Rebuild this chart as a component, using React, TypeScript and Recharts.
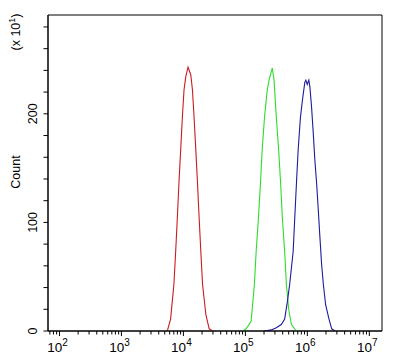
import React from "react";
import { LineChart, Line, XAxis, YAxis, ReferenceArea } from "recharts";

// ---- data ----
const redX = [5500, 6210, 7030, 7500, 7980, 8470, 9040, 9630, 10230, 10900, 11880, 13150, 14000, 14860, 15850, 16890, 17950, 19110, 20360, 23060, 26070, 29630];
const redY = [0, 11, 43, 73, 104, 136, 167, 197, 222, 234, 243, 236, 222, 197, 167, 136, 104, 73, 43, 15, 2, 0];

const greenX = [90700, 102600, 123800, 140000, 149200, 162600, 175300, 186900, 203800, 225400, 245700, 271700, 289600, 315600, 344200, 370800, 395300, 430700, 459000, 500300, 553600, 667000];
const greenY = [0, 2, 9, 43, 73, 104, 136, 167, 197, 222, 233, 242, 232, 197, 167, 136, 104, 73, 43, 20, 6, 0];

const blueX = [203800, 261800, 315600, 380200, 430700, 476400, 518800, 553300, 590200, 626500, 667400, 711200, 774600, 835100, 910600, 946500, 996300, 1057000, 1098000, 1171000, 1247000, 1324000, 1412000, 1504000, 1597000, 1702000, 1813000, 1976000, 2237000, 2474000, 2801000];
const blueY = [0, 1, 3, 6, 11, 27, 43, 58, 73, 104, 136, 167, 197, 213, 229, 231, 227, 231, 225, 206, 182, 157, 136, 111, 86, 61, 43, 24, 11, 2, 0];

const xDomain = [65.3, 16030000];
const yDomain = [0, 291];
const decades = [1, 2, 3, 4, 5, 6, 7];
const multipliers = [1, 2, 3, 4, 5, 6, 7, 8, 9];
const yTicks = [0, 20, 40, 60, 80, 100, 120, 140, 160, 180, 200, 220, 240, 260, 280];
const yLabelTicks = [0, 100, 200];

const xTicks: number[] = [];
decades.forEach((d) => multipliers.forEach((m) => {
  const v = m * Math.pow(10, d);
  if (v >= xDomain[0] && v <= xDomain[1]) xTicks.push(v);
}));

const toPoints = (xs: number[], ys: number[]) => xs.map((x, i) => ({ x, y: ys[i] }));
const redData = toPoints(redX, redY);
const greenData = toPoints(greenX, greenY);
const blueData = toPoints(blueX, blueY);

const FONT = "'Liberation Sans', Arial, sans-serif";

const XTick = (props: any) => {
  const { x, y, payload } = props;
  const v = payload.value;
  const lg = Math.log10(v);
  const e = Math.round(lg);
  const major = Math.abs(lg - e) < 1e-6;
  return (
    <g>
      <line x1={x} y1={y} x2={x} y2={y + (major ? 5 : 3.5)} stroke="#000" strokeWidth={1} />
      {major && (
        <text x={x - 2} y={y + 21} textAnchor="middle" fontFamily={FONT} fontSize={13.5} fill="#000">
          10
          <tspan dy={-6} fontSize={10}>{e}</tspan>
        </text>
      )}
    </g>
  );
};

const YTick = (props: any) => {
  const { x, y, payload } = props;
  const v = payload.value;
  const show = yLabelTicks.includes(v);
  return (
    <g>
      <line x1={x - 4.5} y1={y} x2={x} y2={y} stroke="#000" strokeWidth={1} />
      {show && (
        <text
          x={x - 15}
          y={y}
          transform={`rotate(-90 ${x - 15} ${y})`}
          textAnchor="middle"
          dominantBaseline="central"
          fontFamily={FONT}
          fontSize={12.5}
          fill="#000"
        >
          {v}
        </text>
      )}
    </g>
  );
};

const YLabel = () => (
  <g>
    <text
      x={16}
      y={172}
      transform="rotate(-90 16 172)"
      textAnchor="middle"
      dominantBaseline="central"
      fontFamily={FONT}
      fontSize={12.5}
      fill="#000"
    >
      Count
    </text>
    <text
      x={16}
      y={32}
      transform="rotate(-90 16 32)"
      textAnchor="middle"
      dominantBaseline="central"
      fontFamily={FONT}
      fontSize={12.5}
      fill="#000"
    >
      (x 10
      <tspan dy={-4} fontSize={9}>1</tspan>
      <tspan dy={4}>)</tspan>
    </text>
  </g>
);

export default function App() {
  return (
    <div style={{ position: "absolute", left: 0, top: 0, width: 400, height: 361, background: "#fff" }}>
      <LineChart width={400} height={361} margin={{ top: 15, right: 18, left: 0, bottom: 0 }}>
        <XAxis
          dataKey="x"
          type="number"
          scale="log"
          domain={xDomain}
          allowDataOverflow
          ticks={xTicks}
          interval={0}
          tick={<XTick />}
          tickLine={false}
          tickSize={0}
          tickMargin={0}
          height={30}
          axisLine={{ stroke: "#000", strokeWidth: 1 }}
        />
        <YAxis
          type="number"
          domain={yDomain}
          allowDataOverflow
          ticks={yTicks}
          interval={0}
          tick={<YTick />}
          tickLine={false}
          tickSize={0}
          tickMargin={0}
          width={48}
          axisLine={{ stroke: "#000", strokeWidth: 1 }}
          label={{ content: () => <YLabel /> }}
        />
        <ReferenceArea
          x1={xDomain[0]}
          x2={xDomain[1]}
          y1={yDomain[0]}
          y2={yDomain[1]}
          fill="none"
          fillOpacity={0}
          stroke="#000"
          strokeWidth={1}
          ifOverflow="visible"
        />
        <Line data={redData} dataKey="y" type="linear" stroke="#cc1a22" strokeWidth={1.1} dot={false} activeDot={false} isAnimationActive={false} />
        <Line data={greenData} dataKey="y" type="linear" stroke="#2edc2e" strokeWidth={1.1} dot={false} activeDot={false} isAnimationActive={false} />
        <Line data={blueData} dataKey="y" type="linear" stroke="#1c1c9c" strokeWidth={1.1} dot={false} activeDot={false} isAnimationActive={false} />
      </LineChart>
    </div>
  );
}
